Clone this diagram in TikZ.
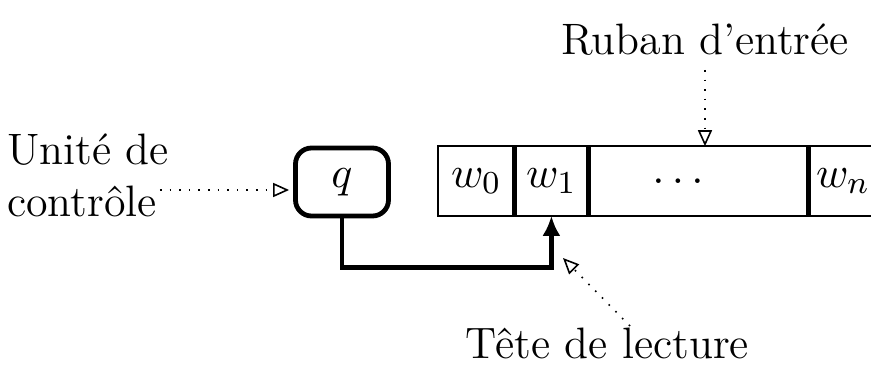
\documentclass[tikz,border=0pt]{standalone}
\usepackage{tikz}
\usetikzlibrary{arrows.meta}
\tikzset{
  every node/.style={font=\fontsize{11}{13}\selectfont},
  ctrlbox/.style={draw, line width=1.2pt, rounded corners=4pt,
    minimum width=23.25pt, minimum height=17pt, inner sep=0pt},
  cell/.style={minimum height=17pt, inner sep=0pt, anchor=west},
  sep/.style={line width=1.2pt},
  note/.style={dotted, -{Triangle[open,length=4pt,width=3.5pt]}},
}

\begin{document}
\begin{tikzpicture}[x=0.25pt,y=-0.25pt]
  \useasboundingbox (0,0) rectangle (871,365);

  % control unit
  \node[ctrlbox] (q) at (342,182) {$q$};

  % input tape
  \node[cell, minimum width=18.75pt] (w0) at (438,181) {$w_0$};
  \node[cell, minimum width=18pt] (w1) at (w0.east) {$w_1$};
  \node[cell, minimum width=54.75pt] (gap) at (w1.east) {};
  \node[cell, minimum width=16.75pt] (wn) at (gap.east) {$w_n$};
  \node (dots) at (678,181) {$\ldots$};
  \draw (w0.north west) rectangle (wn.south east);
  \foreach \c in {w1,gap,wn}
    \draw[sep] (\c.north west) -- (\c.south west);

  % head
  \draw[sep, -{Latex[length=5pt,width=4.5pt]}] (q.south) -- ++(0,49) -| (w1.south);

  % labels
  \node[align=left] (ctrl) at (88,175) {Unit\'e de\\contr\^ole};
  \node (ruban) at (705,40) {Ruban d'entr\'ee};
  \node (tete) at (607,343) {T\^ete de lecture};

  \coordinate (ctrlfrom) at (160,190);
  \coordinate (tetefrom) at (630,326);
  \draw[note, shorten >=1pt] (ctrlfrom) -- (ctrlfrom -| q.west);
  \draw[note] (ruban.south) -- (ruban.south |- w0.north);
  \draw[note] (tetefrom) -- (563,258);
\end{tikzpicture}
\end{document}
